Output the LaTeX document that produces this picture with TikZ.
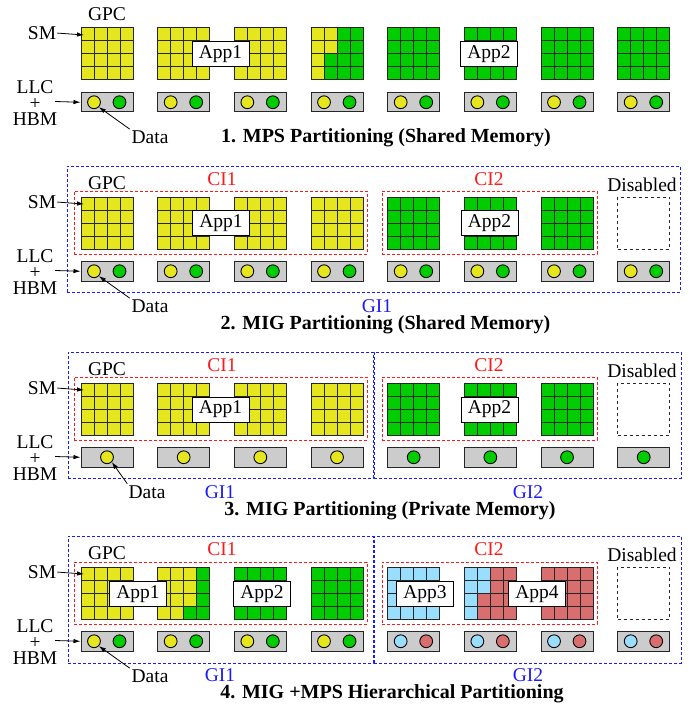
\documentclass[tikz,border=0pt]{standalone}
\usepackage{fontspec}
\setmainfont{Liberation Serif}
\usetikzlibrary{arrows.meta}
\definecolor{smYellow}{HTML}{E6E61E}
\definecolor{smGreen}{HTML}{00CC00}
\definecolor{smBlue}{HTML}{99DDFF}
\definecolor{smRed}{HTML}{D96E6E}
\definecolor{memGray}{HTML}{CCCCCC}
\definecolor{giBlue}{HTML}{1A1AFF}
\definecolor{ciRed}{HTML}{FF1A1A}

\tikzset{
  lbl/.style={font=\fontsize{19.5}{20}\selectfont, inner sep=0pt},
  ttl/.style={font=\fontsize{20}{22}\selectfont\bfseries, inner sep=0pt},
  gpcbox/.style={draw=black!85, line width=1pt, minimum size=52pt, inner sep=0pt},
  llcbox/.style={draw=black!85, fill=memGray, line width=1pt, minimum width=52pt, minimum height=19.5pt, inner sep=0pt},
  datadot/.style={circle, draw=black, line width=0.9pt, minimum size=12.8pt, inner sep=0pt},
  appbox/.style={draw=black, fill=white, line width=1pt, minimum width=57pt, minimum height=25pt, inner sep=0pt, font=\fontsize{19.5}{20}\selectfont},
  gibox/.style={draw=giBlue, dash pattern=on 3pt off 2pt, line width=1pt, inner sep=0pt},
  cibox/.style={draw=ciRed, dash pattern=on 3pt off 2pt, line width=1pt, inner sep=0pt},
  offbox/.style={draw=black!85, dash pattern=on 3pt off 3pt, line width=1pt, minimum size=52pt, inner sep=0pt},
  ptr/.style={-{Latex[length=7pt,width=4.5pt]}, line width=0.8pt},
}

% one GPC: name, left x, top y, colour A, colour B, mixing mode
\newcommand{\gpcgrid}[6]{%
  \foreach \gr in {0,...,3}{
    \foreach \gc in {0,...,3}{
      \pgfmathtruncatemacro{\useA}{(#6==0) || (#6==1 && (\gc==0 || (\gr<2 && \gc<2))) || (#6==2 && ((\gr<3 && \gc<3) || (\gr==3 && \gc<2)))}
      \ifnum\useA=1 \def\cellcol{#4}\else\def\cellcol{#5}\fi
      \fill[fill=\cellcol] (#2+13*\gc,#3+13*\gr) rectangle ++(13,13);
    }
  }
  \foreach \k in {1,2,3}{
    \draw[line width=1pt, black!85] (#2+13*\k,#3) -- ++(0,52);
    \draw[line width=1pt, black!85] (#2,#3+13*\k) -- ++(52,0);
  }
  \node[gpcbox] (#1) at (#2+26,#3+26) {};
}
% LLC/HBM slice with two or one data dots
\newcommand{\llcpair}[5]{%
  \node[llcbox] (#1) at (#2+26,#3+9.75) {};
  \node[datadot, fill=#4] (#1a) at (#2+13,#3+9.75) {};
  \node[datadot, fill=#5] (#1b) at (#2+38.5,#3+9.75) {};
}
\newcommand{\llcsingle}[4]{%
  \node[llcbox] (#1) at (#2+26,#3+9.75) {};
  \node[datadot, fill=#4] (#1a) at (#2+26,#3+9.75) {};
}
% labels on the left of a panel: tag, top y, x of Data
\newcommand{\sidelabels}[3]{%
  \node[lbl] (gpc#1) at (107,#2-14) {GPC};
  \node[lbl] (sm#1) at (42,#2+5) {SM};
  \coordinate (smtip#1) at (84,#2+7);
  \draw[ptr, shorten <=1pt] (sm#1.east) -- (smtip#1);
  \node[lbl, align=center, font=\fontsize{19.5}{16}\selectfont] (llc#1) at (35,#2+75) {LLC\\+\\HBM};
  \coordinate (llcfrom#1) at (55,#2+73.5);
  \draw[ptr] (llcfrom#1) -- (l#10.west);
  \node[lbl] (data#1) at (#3,#2+109) {Data};
  \draw[ptr, shorten <=2pt] (data#1.north west) -- (l#10a.south east);
}

\begin{document}
\begin{tikzpicture}[x=1pt, y=-1pt]
  \useasboundingbox (0,0) rectangle (697,706);

  % 1. MPS
  \foreach \i/\ca/\cb/\md in {0/smYellow/smYellow/0, 1/smYellow/smYellow/0, 2/smYellow/smYellow/0, 3/smYellow/smGreen/1,
                              4/smGreen/smGreen/0, 5/smGreen/smGreen/0, 6/smGreen/smGreen/0, 7/smGreen/smGreen/0}{
    \pgfmathsetmacro{\gx}{81+76.67*\i}
    \gpcgrid{ga\i}{\gx}{28}{\ca}{\cb}{\md}
    \llcpair{la\i}{\gx}{92.5}{smYellow}{smGreen}
  }
  \node[appbox] (appa1) at (220.5,54.5) {App1};
  \node[appbox] (appa2) at (489,54.5) {App2};
  \sidelabels{a}{28}{150}
  \node[ttl] (ttla) at (386,138) {1. MPS Partitioning (Shared Memory)};

  % 2. MIG, shared memory
  \node[gibox, minimum width=613pt, minimum height=126pt] (gib1) at (373.5,229) {};
  \node[cibox, minimum width=293pt, minimum height=63pt] (cib1) at (220.5,222.5) {};
  \node[cibox, minimum width=215pt, minimum height=63pt] (cib2) at (489.5,222.5) {};
  \foreach \i/\ca in {0/smYellow, 1/smYellow, 2/smYellow, 3/smYellow, 4/smGreen, 5/smGreen, 6/smGreen}{
    \pgfmathsetmacro{\gx}{81+76.67*\i}
    \gpcgrid{gb\i}{\gx}{197}{\ca}{\ca}{0}
  }
  \node[offbox] (gb7) at (643.7,223) {};
  \foreach \i in {0,...,7}{
    \pgfmathsetmacro{\gx}{81+76.67*\i}
    \llcpair{lb\i}{\gx}{261.5}{smYellow}{smGreen}
  }
  \node[appbox] (appb1) at (221,223) {App1};
  \node[appbox] (appb2) at (489.5,223) {App2};
  \node[lbl, text=ciRed] (cib1lbl) at (222,179) {CI1};
  \node[lbl, text=ciRed] (cib2lbl) at (489,179) {CI2};
  \node[lbl] (offb) at (642,185) {Disabled};
  \node[lbl, text=giBlue] (gib1lbl) at (377,306.5) {GI1};
  \sidelabels{b}{197}{150}
  \node[ttl] (ttlb) at (385.5,324.5) {2. MIG Partitioning (Shared Memory)};

  % 3. MIG, private memory
  \node[gibox, minimum width=305pt, minimum height=126pt] (gic1) at (220.5,415) {};
  \node[gibox, minimum width=307pt, minimum height=126pt] (gic2) at (527.5,415) {};
  \node[cibox, minimum width=293pt, minimum height=63pt] (cic1) at (220.5,408.5) {};
  \node[cibox, minimum width=215pt, minimum height=63pt] (cic2) at (489.5,408.5) {};
  \foreach \i/\ca in {0/smYellow, 1/smYellow, 2/smYellow, 3/smYellow, 4/smGreen, 5/smGreen, 6/smGreen}{
    \pgfmathsetmacro{\gx}{81+76.67*\i}
    \gpcgrid{gc\i}{\gx}{383}{\ca}{\ca}{0}
  }
  \node[offbox] (gc7) at (643.7,409) {};
  \foreach \i/\ca in {0/smYellow, 1/smYellow, 2/smYellow, 3/smYellow, 4/smGreen, 5/smGreen, 6/smGreen, 7/smGreen}{
    \pgfmathsetmacro{\gx}{81+76.67*\i}
    \llcsingle{lc\i}{\gx}{447.5}{\ca}
  }
  \node[appbox] (appc1) at (220.5,409.5) {App1};
  \node[appbox] (appc2) at (489.5,409.5) {App2};
  \node[lbl, text=ciRed] (cic1lbl) at (222,365) {CI1};
  \node[lbl, text=ciRed] (cic2lbl) at (489,365) {CI2};
  \node[lbl] (offc) at (642,371) {Disabled};
  \node[lbl, text=giBlue] (gic1lbl) at (220,492.5) {GI1};
  \node[lbl, text=giBlue] (gic2lbl) at (528,492.5) {GI2};
  \sidelabels{c}{383}{147}
  \node[ttl] (ttlc) at (390,510.5) {3. MIG Partitioning (Private Memory)};

  % 4. MIG + MPS
  \node[gibox, minimum width=305pt, minimum height=127pt] (gid1) at (220.5,599.5) {};
  \node[gibox, minimum width=307pt, minimum height=127pt] (gid2) at (527.5,599.5) {};
  \node[cibox, minimum width=293pt, minimum height=62pt] (cid1) at (220.5,593) {};
  \node[cibox, minimum width=215pt, minimum height=62pt] (cid2) at (489.5,593) {};
  \foreach \i/\ca/\cb/\md in {0/smYellow/smYellow/0, 1/smYellow/smGreen/2, 2/smGreen/smGreen/0, 3/smGreen/smGreen/0,
                              4/smBlue/smBlue/0, 5/smBlue/smRed/1, 6/smRed/smRed/0}{
    \pgfmathsetmacro{\gx}{81+76.67*\i}
    \gpcgrid{gd\i}{\gx}{567}{\ca}{\cb}{\md}
  }
  \node[offbox] (gd7) at (643.7,593) {};
  \foreach \i/\ca/\cb in {0/smYellow/smGreen, 1/smYellow/smGreen, 2/smYellow/smGreen, 3/smYellow/smGreen,
                          4/smBlue/smRed, 5/smBlue/smRed, 6/smBlue/smRed, 7/smBlue/smRed}{
    \pgfmathsetmacro{\gx}{81+76.67*\i}
    \llcpair{ld\i}{\gx}{631.5}{\ca}{\cb}
  }
  \node[appbox] (appd1) at (138,594) {App1};
  \node[appbox] (appd2) at (262,594) {App2};
  \node[appbox] (appd3) at (425,594) {App3};
  \node[appbox] (appd4) at (537,594) {App4};
  \node[lbl, text=ciRed] (cid1lbl) at (222,549) {CI1};
  \node[lbl, text=ciRed] (cid2lbl) at (489,549) {CI2};
  \node[lbl] (offd) at (642,555) {Disabled};
  \node[lbl, text=giBlue] (gid1lbl) at (220,675.5) {GI1};
  \node[lbl, text=giBlue] (gid2lbl) at (528,675.5) {GI2};
  \sidelabels{d}{567}{150}
  \node[ttl] (ttld) at (392,693.5) {4. MIG +MPS Hierarchical Partitioning};
\end{tikzpicture}
\end{document}
